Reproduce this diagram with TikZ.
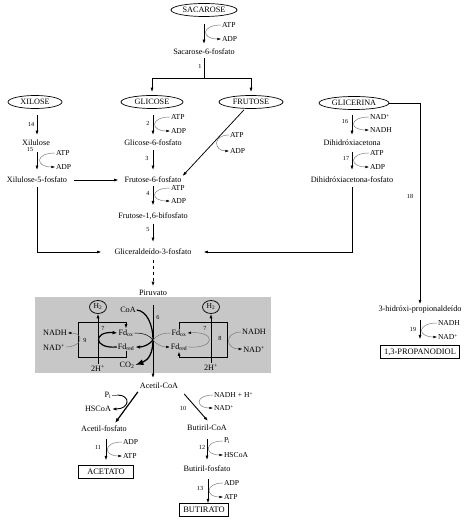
\documentclass[tikz,border=0pt]{standalone}
\usepackage{fontspec}
\setmainfont{Liberation Serif}
\usetikzlibrary{arrows.meta,shapes.geometric,calc}
\newcommand\sidearc[3][20]{\draw[side] (#2.west) .. controls +(-#1,0) and +(-#1,0) .. (#3.west);}
\begin{document}
\begin{tikzpicture}[x=1pt,y=-1pt,
  every node/.style={inner sep=0.8pt},
  txt/.style={font=\fontsize{8.2}{9}\selectfont},
  sm/.style={font=\fontsize{7.6}{8}\selectfont,anchor=west},
  num/.style={font=\fontsize{6.2}{7}\selectfont},
  ell/.style={draw,ellipse,line width=0.7pt,minimum height=13pt,inner sep=0pt,font=\fontsize{8.2}{9}\selectfont},
  htwo/.style={draw,ellipse,line width=0.7pt,minimum width=17pt,minimum height=13pt,inner sep=0pt,font=\fontsize{7.6}{8}\selectfont},
  prod/.style={draw,rectangle,line width=0.7pt,minimum height=12.5pt,inner sep=0pt,font=\fontsize{8.4}{9}\selectfont},
  ln/.style={line width=0.75pt},
  arr/.style={line width=0.75pt,-{Latex[length=4.5pt,width=3pt]}},
  v/.style={arr,shorten <=5pt,shorten >=4pt},
  side/.style={line width=0.45pt,black!55,-{Latex[length=3.6pt,width=2.6pt,color=black]}},
  sideln/.style={line width=0.45pt,black!55},
  thk/.style={line width=1.2pt},
  thkarr/.style={line width=1.2pt,-{Latex[length=5pt,width=3.6pt]}},
  bigarr/.style={line width=1.3pt,-{Latex[length=8pt,width=6pt]}},
]
\useasboundingbox (0,0) rectangle (467,521);
\fill[black!22] (35,297) rectangle (271,373);

% ---- top
\node[ell,minimum width=66pt] (sac) at (204,10) {SACAROSE};
\node[sm] (atp0) at (221,25) {ATP};
\node[sm] (adp0) at (221,39) {ADP};
\node[txt] (s6f) at (204,52) {Sacarose-6-fosfato};
\node[num] (n1) at (200,66) {1};
\coordinate (br) at (204,78);
\draw[arr,shorten <=7pt,shorten >=4pt] (sac.south) -- (s6f.north);
\sidearc{atp0}{adp0}
\draw[ln,shorten <=2pt] (s6f.south) -- (br);

\node[ell,minimum width=62pt] (glc) at (152,102) {GLICOSE};
\node[ell,minimum width=64pt] (fru) at (251,102) {FRUTOSE};
\node[ell,minimum width=54pt] (xil) at (35,102) {XILOSE};
\node[ell,minimum width=70pt] (gli) at (354,103) {GLICERINA};
\draw[arr,shorten >=3pt] (br) -| (glc.north);
\draw[arr,shorten >=3pt] (br) -| (fru.north);

% ---- glucose column
\node[num] (n2) at (148,123) {2};
\node[sm] (atp2) at (170,117) {ATP};
\node[sm] (adp2) at (170,131) {ADP};
\node[txt] (g6p) at (153,143) {Glicose-6-fosfato};
\draw[v,shorten <=6pt] (glc.south -| g6p.north) -- (g6p.north);
\sidearc{atp2}{adp2}
\node[num] (n3) at (147,158) {3};
\node[txt] (f6p) at (153,180) {Frutose-6-fosfato};
\draw[v,shorten <=3pt,shorten >=6pt] (g6p.south) -- (f6p.north);
\node[num] (n4) at (148,193) {4};
\node[sm] (atp4) at (170,188) {ATP};
\node[sm] (adp4) at (170,201) {ADP};
\node[txt] (f16) at (153,216) {Frutose-1,6-bifosfato};
\draw[v,shorten <=2pt,shorten >=6pt] (f6p.south) -- (f16.north);
\sidearc{atp4}{adp4}
\node[num] (n5) at (148,229) {5};
\node[txt] (gap) at (153,252) {Gliceraldeído-3-fosfato};
\draw[v,shorten <=3pt,shorten >=6pt] (f16.south) -- (gap.north);

% ---- fructose
\node[sm] (fatp) at (229,135) {ATP};
\node[sm] (fadp) at (229,151) {ADP};
\draw[arr] ($(fru.south)+(-7,1)$) -- (f6p.north east);
\draw[side] (fatp.west) .. controls +(-17,0) and +(-15,0) .. (fadp.west);

% ---- xylose column
\node[num] (n14) at (31,124) {14};
\node[txt] (xu) at (36,143) {Xilulose};
\draw[v,shorten <=6pt] (xil.south -| 37,0) -- (xu.north -| 37,0);
\node[num] (n15) at (30,149) {15};
\node[sm] (atp15) at (55,153) {ATP};
\node[sm] (adp15) at (55,167) {ADP};
\node[txt] (x5p) at (37,180) {Xilulose-5-fosfato};
\draw[v,shorten <=5pt,shorten >=6pt] (xu.south -| 37,0) -- (x5p.north -| 37,0);
\sidearc{atp15}{adp15}
\draw[arr,shorten <=6pt,shorten >=5pt] (x5p.east) -- (f6p.west);
\draw[arr,shorten <=3pt,shorten >=12pt] (x5p.south) |- (gap.west);

% ---- glycerol column
\node[num] (n16) at (345,121) {16};
\node[sm] (nad16) at (369,117) {NAD\textsuperscript{+}};
\node[sm] (nadh16) at (369,130) {NADH};
\node[txt] (dha) at (352,143) {Dihidróxiacetona};
\draw[v,shorten <=5pt] (gli.south -| dha.north) -- (dha.north);
\sidearc{nad16}{nadh16}
\node[num] (n17) at (346,158) {17};
\node[sm] (atp17) at (369,153) {ATP};
\node[sm] (adp17) at (369,167) {ADP};
\node[txt] (dhap) at (352,180) {Dihidróxiacetona-fosfato};
\draw[v,shorten <=5pt,shorten >=6pt] (dha.south) -- (dhap.north);
\sidearc{atp17}{adp17}
\draw[arr,shorten <=3pt,shorten >=11pt] (dhap.south) |- (gap.east);

% ---- reaction 18 / 19
\node[num] (n18) at (410,196) {18};
\node[txt] (hpa) at (420,310) {3-hidróxi-propionaldeído};
\draw[arr,shorten >=1pt] (gli.east) -| (hpa.north);
\node[num] (n19) at (413,329) {19};
\node[sm] (nadh19) at (437,323) {NADH};
\node[sm] (nad19) at (437,337) {NAD\textsuperscript{+}};
\node[prod,minimum width=79pt] (pdo) at (420,352) {1,3-PROPANODIOL};
\draw[v,shorten <=5pt,shorten >=6pt] (hpa.south) -- (pdo.north);
\sidearc{nadh19}{nad19}

% ---- pyruvate
\node[txt] (pir) at (153,293) {Piruvato};
\draw[arr,dashed,shorten <=4pt,shorten >=3pt] (gap.south) -- (pir.north);
\node[txt] (acoa) at (159,386) {Acetil-CoA};
\draw[arr,shorten <=8pt,shorten >=4pt] (pir.south) -- (pir.south |- acoa.north);
\node[num] (n6) at (158,317) {6};
\coordinate (X) at (153,340);
\node[txt] (coa) at (128,310) {CoA};
\node[txt] (co2) at (127,365) {CO\textsubscript{2}};
\draw[thk] (coa.east) .. controls (147,311) and (153,325) .. (X);
\draw[bigarr] (X) .. controls (153,352) and (149,360) .. (co2.east);

% left hydrogenase box
\node[txt] (fdox1) at (126,333) {Fd\textsubscript{ox}};
\node[txt] (fdred1) at (126,347) {Fd\textsubscript{red}};
\coordinate (tl1) at (78,322);
\coordinate (bl1) at (78,357);
\draw[arr] (fdred1.south) -- (fdred1.south |- bl1) -- (bl1) -- (tl1) -- (tl1 -| fdox1.north) -- (fdox1.north);
\node[htwo] (h2a) at (98,307) {H\textsubscript{2}};
\node[txt] (hp1) at (98,368) {2H\textsuperscript{+}};
\draw[arr] (hp1.north) -- (h2a.south);
\node[num] (n7a) at (103,328) {7};
\node[num] (n9) at (85,340) {9};
\draw[thkarr] (fdred1.west) .. controls (93,349) and (93,331) .. (fdox1.west);
\node[txt] (nadh1) at (55,333) {NADH};
\node[txt] (nad1) at (54,347) {NAD\textsuperscript{+}};
\draw[side] (nad1.east) .. controls +(17,0) and +(17,0) .. (nadh1.east);
\draw[line width=0.5pt] (fdox1.east) .. controls (145,333) and (150,336) .. (X);
\draw[thkarr] (X) .. controls (150,344) and (144,347) .. (fdred1.east);

% right hydrogenase box
\node[txt] (fdox2) at (179,333) {Fd\textsubscript{ox}};
\node[txt] (fdred2) at (179,347) {Fd\textsubscript{red}};
\coordinate (tr2) at (227,322);
\coordinate (br2) at (227,357);
\draw[arr] (fdox2.north) -- (fdox2.north |- tr2) -- (tr2) -- (br2) -- (br2 -| fdred2.south) -- (fdred2.south);
\node[htwo] (h2b) at (211,307) {H\textsubscript{2}};
\node[txt] (hp2) at (211,367) {2H\textsuperscript{+}};
\draw[arr] (hp2.north) -- (h2b.south);
\node[num] (n7b) at (205,328) {7};
\node[num] (n8) at (220,338) {8};
\draw[side] (fdred2.east) .. controls (216,349) and (216,331) .. (fdox2.east);
\node[txt] (nadh2) at (254,332) {NADH};
\node[txt] (nad2) at (254,349) {NAD\textsuperscript{+}};
\draw[side] (nadh2.west) .. controls +(-17,0) and +(-17,0) .. (nad2.west);
\draw[sideln] (fdox2.west) .. controls (161,333) and (156,336) .. (X);
\draw[side] (X) .. controls (156,344) and (162,347) .. (fdred2.west);

% ---- acetate branch
\node[txt] (pi1) at (108,395) {P\textsubscript{i}};
\node[txt] (hscoa1) at (98,409) {HSCoA};
\node[txt] (acp) at (104,429) {Acetil-fosfato};
\draw[thkarr] ($(acoa.south west)+(-1,2)$) -- ($(acp.north)+(11,-2)$);
\draw[sideln] (pi1.east) -- +(5,0);
\draw[line width=0.9pt,-{Latex[length=4.5pt,width=3.2pt]}] ($(pi1.east)+(5,0)$) .. controls (131,395) and (130,409) .. (hscoa1.east);
\node[num] (n11) at (98,447) {11};
\node[sm] (adp11) at (122,442) {ADP};
\node[sm] (atp11) at (122,456) {ATP};
\node[prod,minimum width=55pt] (acet) at (106,472) {ACETATO};
\draw[v,shorten <=6pt,shorten >=5pt] (acp.south -| acet.north) -- (acet.north);
\sidearc[19]{adp11}{atp11}

% ---- butyrate branch
\node[num] (n10) at (183,408) {10};
\node[sm] (nadhh) at (213,395) {NADH + H\textsuperscript{+}};
\node[sm] (nad10) at (213,408) {NAD\textsuperscript{+}};
\node[txt] (bcoa) at (207,428) {Butiril-CoA};
\draw[arr,line width=0.9pt] ($(acoa.south east)+(5,4)$) -- ($(bcoa.north)+(1,-3)$);
\sidearc[18]{nadhh}{nad10}
\node[num] (n12) at (202,447) {12};
\node[sm] (pi12) at (223,441) {P\textsubscript{i}};
\node[sm] (hscoa12) at (223,455) {HSCoA};
\node[txt] (bfos) at (207,469) {Butiril-fosfato};
\draw[v,shorten <=7pt,shorten >=5pt] (bcoa.south) -- (bfos.north);
\sidearc[19]{pi12}{hscoa12}
\node[num] (n13) at (200,488) {13};
\node[sm] (adp13) at (223,483) {ADP};
\node[sm] (atp13) at (223,497) {ATP};
\node[prod,minimum width=49pt] (but) at (204,510) {BUTIRATO};
\draw[arr,shorten <=6pt] (bfos.south -| 208,0) -- (but.north -| 208,0);
\sidearc[18]{adp13}{atp13}
\end{tikzpicture}
\end{document}
